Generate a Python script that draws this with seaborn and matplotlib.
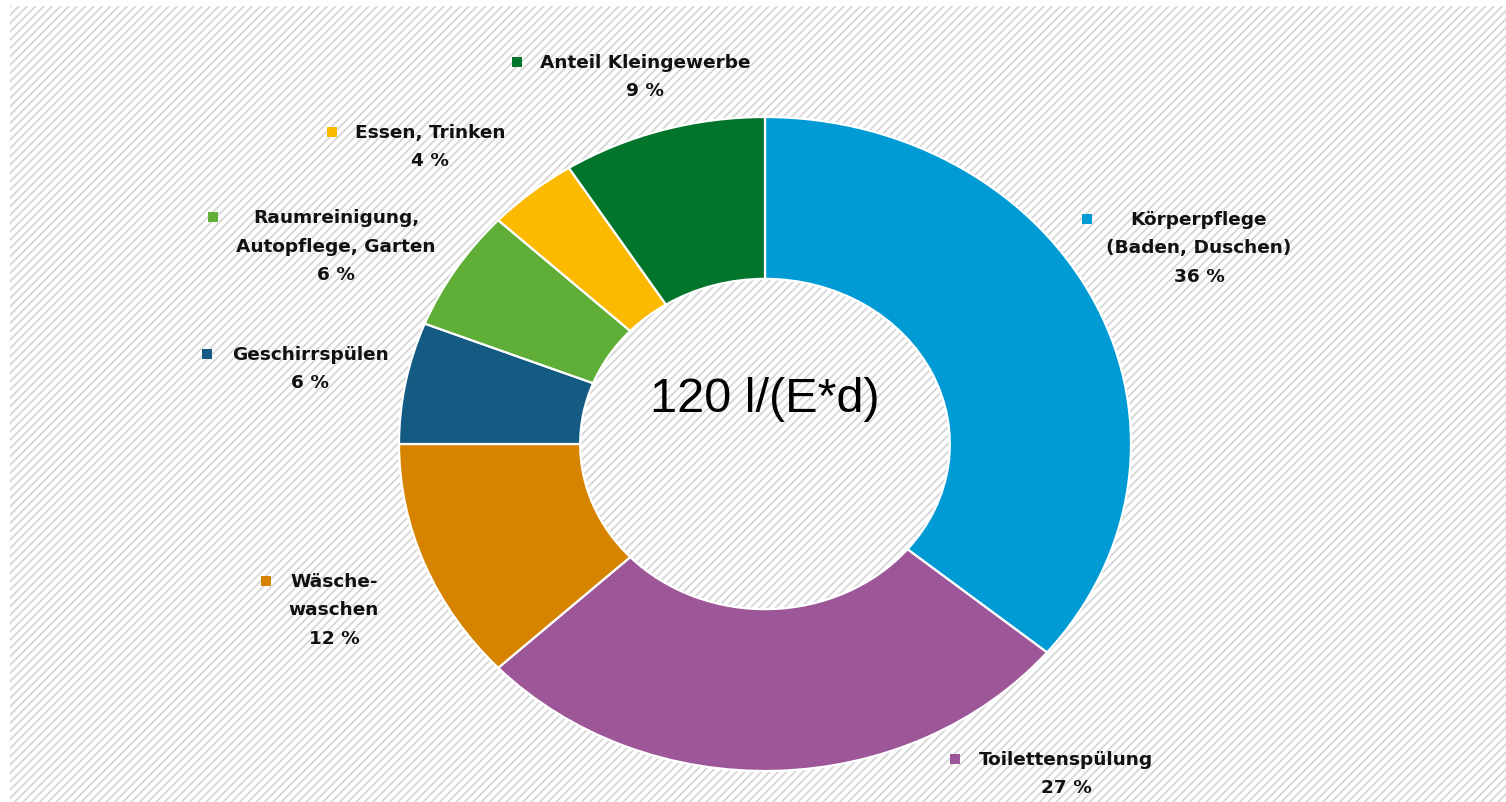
import matplotlib
matplotlib.use("Agg")
import matplotlib.pyplot as plt
from matplotlib.patches import Rectangle
import seaborn as sns

# Daily household water use per inhabitant, split by purpose
categories = [
    "Körperpflege\n(Baden, Duschen)",
    "Toilettenspülung",
    "Wäsche-\nwaschen",
    "Geschirrspülen",
    "Raumreinigung,\nAutopflege, Garten",
    "Essen, Trinken",
    "Anteil Kleingewerbe",
]
shares = [36, 27, 12, 6, 6, 4, 9]
total_label = "120 l/(E*d)"
colors = ["#009bd5", "#9d5799", "#d68300", "#145b83", "#5fae37", "#fbba00", "#00752b"]

sns.set_style("white")
plt.rcParams["hatch.linewidth"] = 1.3
plt.rcParams["hatch.color"] = "#d6d6d6"

W, H = 1506, 803
fig = plt.figure(figsize=(W / 100, H / 100), dpi=100)
ax = fig.add_axes([0, 0, 1, 1])
ax.axis("off")

# Ring geometry in pixels (centre, horizontal and vertical outer radius)
cx, cy, rx, ry = 765, 445, 366, 327

# Diagonal hatched backdrop
bg = Rectangle((10 / W, 0), (W - 10) / W, (H - 7) / H, transform=fig.transFigure,
               facecolor="white", edgecolor="#d6d6d6", hatch="////", linewidth=0,
               zorder=0)
ax.add_patch(bg)

palette = sns.color_palette(colors)
ax.pie(shares, colors=palette, startangle=90, counterclock=False, radius=1,
       wedgeprops=dict(width=0.495, edgecolor="white", linewidth=1.6, zorder=2))
ax.set_aspect("auto")
ax.set_xlim(-cx / rx, (W - cx) / rx)
ax.set_ylim(-(H - cy) / ry, cy / ry)


def px(x, y):
    """Pixel position (from top-left) to data coordinates."""
    return (x - cx) / rx, (cy - y) / ry


# label block layout: text centre x, first line y, key marker x
layout = [
    (1199, 220, 1087),
    (1066, 760, 955),
    (334, 582, 266),
    (310, 355, 207),
    (336, 218, 213),
    (430, 133, 332),
    (645, 63, 517),
]
line_h = 28.5
font = dict(family="DejaVu Sans", fontweight="bold", fontsize=13.3, color="#111111")

for cat, val, col, (tx, ty, mx) in zip(categories, shares, palette, layout):
    lines = cat.split("\n") + [f"{val} %"]
    for i, line in enumerate(lines):
        x, y = px(tx, ty + i * line_h)
        ax.text(x, y, line, ha="center", va="center", zorder=3, **font)
    x, y = px(mx, ty)
    ax.scatter([x], [y], marker="s", s=60, color=col, linewidths=0, zorder=3)

x, y = px(cx, 412)
ax.text(x, y, total_label, ha="center", va="baseline", fontsize=35,
        family="Liberation Sans", color="black", zorder=3)

fig.savefig("out.png", dpi=100)
